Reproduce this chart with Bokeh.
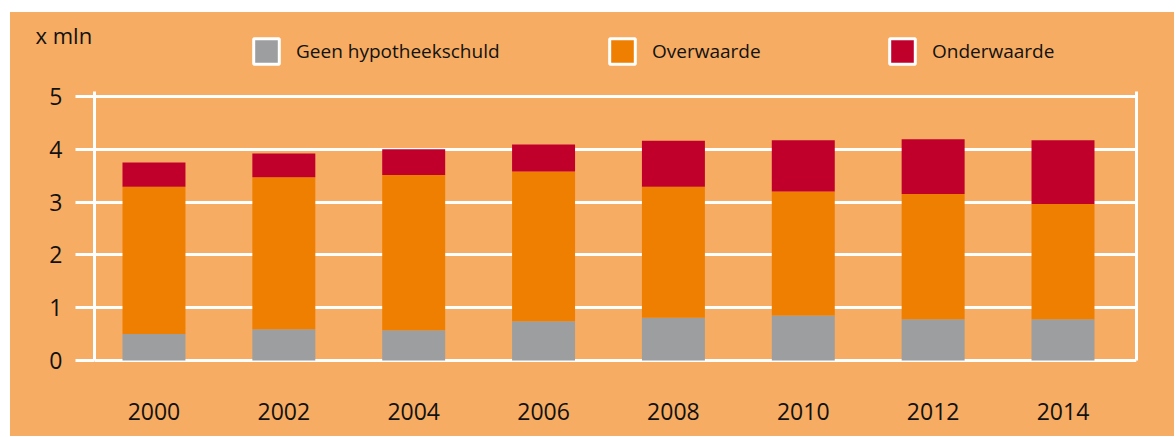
from bokeh.plotting import figure
from bokeh.models import (ColumnDataSource, Legend, LegendItem, LinearAxis,
                          FixedTicker, Title, Range1d)
from bokeh.embed import file_html
from bokeh.resources import INLINE

# ---- data (x mln) ----
years = [2000, 2002, 2004, 2006, 2008, 2010, 2012, 2014]
geen = [0.50, 0.59, 0.57, 0.74, 0.81, 0.85, 0.78, 0.78]
over = [2.79, 2.88, 2.94, 2.84, 2.48, 2.35, 2.37, 2.18]
onder = [0.46, 0.45, 0.49, 0.51, 0.87, 0.97, 1.04, 1.21]
series_keys = ["geen", "over", "onder"]
series_labels = ["Geen hypotheekschuld", "Overwaarde", "Onderwaarde"]
y_ticks = [0, 1, 2, 3, 4, 5]
unit_label = "x mln"

BG = "#F6AC62"
COLORS = ["#9D9E9F", "#EF7F00", "#C0002B"]
TXT = "#111111"
FONT = "Open Sans"

p = figure(width=1164, height=424,
           x_range=Range1d(1999.084, 2015.132),
           y_range=Range1d(-0.04, 6.135),
           output_backend="svg", toolbar_location=None,
           min_border_left=84, min_border_right=38,
           min_border_top=24, min_border_bottom=74,
           margin=(12, 0, 0, 10))
try:
    ttl = Title(text=unit_label, align="left", offset=-59,
                text_font=FONT, text_font_size="22px",
                text_font_style="normal", text_color=TXT,
                vertical_align="bottom", standoff=-27)
except Exception:
    ttl = Title(text=unit_label, align="left", offset=-59,
                text_font=FONT, text_font_size="22px",
                text_font_style="normal", text_color=TXT, standoff=0)
p.title = ttl
p.styles = {"background-color": BG}
p.background_fill_color = None
p.border_fill_color = None
p.outline_line_color = None

src = ColumnDataSource(dict(year=years, geen=geen, over=over, onder=onder))
p.vbar_stack(series_keys, x="year", width=0.97, source=src,
             fill_color=COLORS, line_color=None)

# legend-only renderers (hidden, white-bordered swatches)
items = []
for key, lab, c in zip(series_keys, series_labels, COLORS):
    r = p.vbar(x="year", top=key, width=0.97, source=src, fill_color=c,
               line_color="white", line_width=3, visible=False)
    items.append(LegendItem(label=lab, renderers=[r]))

for item, xloc in zip(items, [156, 512, 792]):
    lg = Legend(items=[item], location=(xloc, 295), orientation="horizontal",
                glyph_width=32, glyph_height=32, label_standoff=14,
                padding=0, margin=0, border_line_color=None,
                background_fill_alpha=0, inactive_fill_alpha=0,
                label_text_font=FONT,
                label_text_font_size="19px", label_text_color=TXT)
    p.add_layout(lg)

# axes
p.xaxis.ticker = FixedTicker(ticks=years)
p.xaxis.axis_line_color = None
p.xaxis.major_tick_line_color = None
p.xaxis.minor_tick_line_color = None
p.xaxis.major_label_standoff = 34
p.xaxis.major_label_text_font = FONT
p.xaxis.major_label_text_font_size = "23px"
p.xaxis.major_label_text_color = TXT

p.yaxis.ticker = FixedTicker(ticks=y_ticks)
p.yaxis.bounds = (0, 5.09)
p.yaxis.axis_line_color = "white"
p.yaxis.axis_line_width = 3
p.yaxis.major_tick_line_color = "white"
p.yaxis.major_tick_line_width = 3
p.yaxis.major_tick_out = 19
p.yaxis.major_tick_in = 0
p.yaxis.minor_tick_line_color = None
p.yaxis.major_label_standoff = 13
p.yaxis.major_label_text_font = FONT
p.yaxis.major_label_text_font_size = "23px"
p.yaxis.major_label_text_color = TXT

right = LinearAxis(ticker=FixedTicker(ticks=[]), bounds=(0, 5.09),
                   axis_line_color="white", axis_line_width=3,
                   major_tick_line_color=None, minor_tick_line_color=None,
                   major_label_text_font_size="0px")
p.add_layout(right, "right")

p.xgrid.visible = False
p.ygrid.ticker = FixedTicker(ticks=y_ticks)
p.ygrid.grid_line_color = "white"
p.ygrid.grid_line_width = 3

open("out.html", "w").write(file_html(p, INLINE))
